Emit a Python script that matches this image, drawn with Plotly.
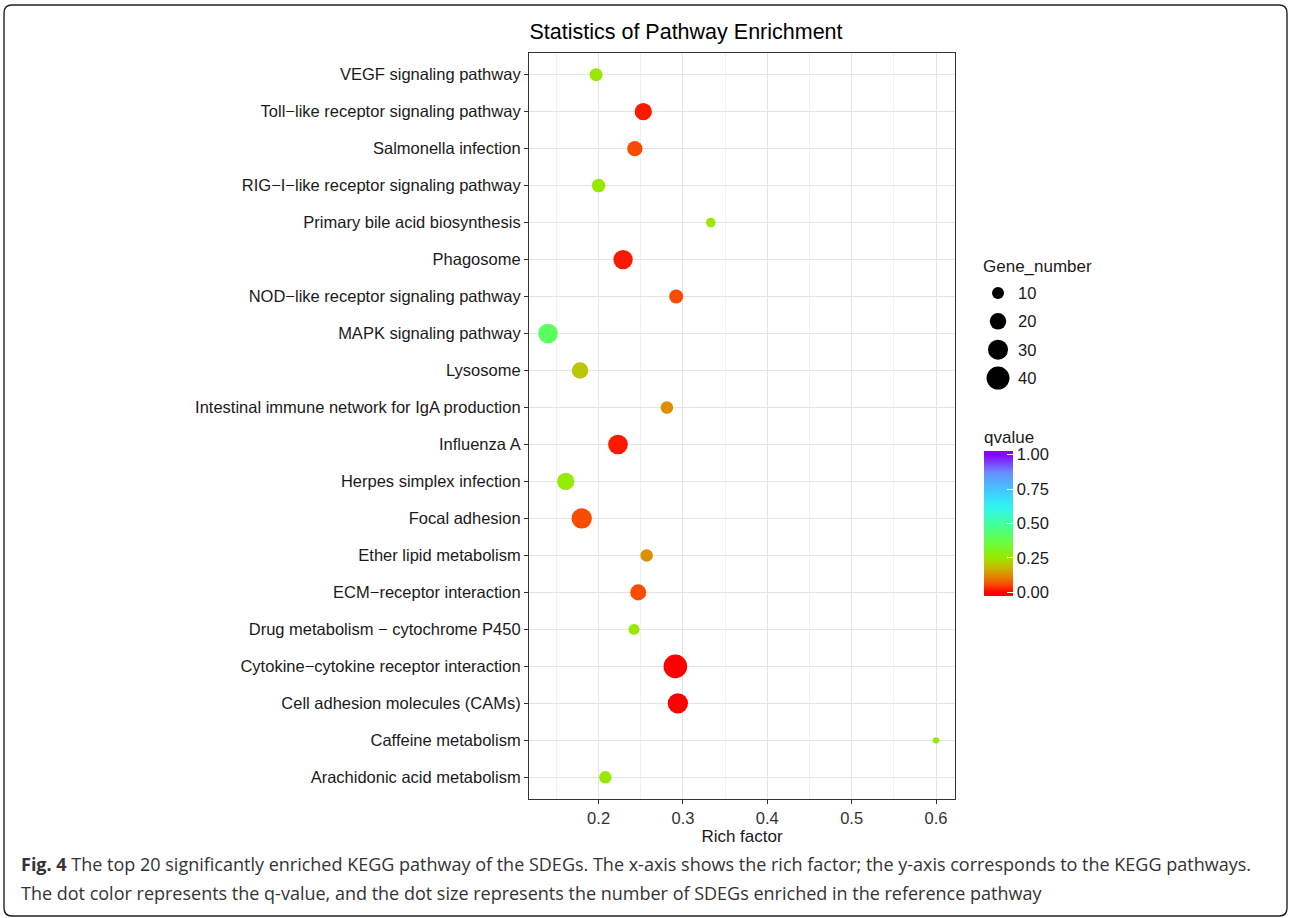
import numpy as np
import plotly.graph_objects as go

# KEGG pathways, listed top-to-bottom as shown on the y axis
pathways = [
    "VEGF signaling pathway",
    "Toll\u2212like receptor signaling pathway",
    "Salmonella infection",
    "RIG\u2212I\u2212like receptor signaling pathway",
    "Primary bile acid biosynthesis",
    "Phagosome",
    "NOD\u2212like receptor signaling pathway",
    "MAPK signaling pathway",
    "Lysosome",
    "Intestinal immune network for IgA production",
    "Influenza A",
    "Herpes simplex infection",
    "Focal adhesion",
    "Ether lipid metabolism",
    "ECM\u2212receptor interaction",
    "Drug metabolism \u2212 cytochrome P450",
    "Cytokine\u2212cytokine receptor interaction",
    "Cell adhesion molecules (CAMs)",
    "Caffeine metabolism",
    "Arachidonic acid metabolism",
]
rich_factor = [0.197, 0.253, 0.243, 0.200, 0.333, 0.229, 0.292, 0.140, 0.178, 0.281,
               0.223, 0.161, 0.180, 0.257, 0.247, 0.242, 0.291, 0.294, 0.600, 0.208]
gene_number = [12, 22, 17, 13, 6, 28, 14, 29, 20, 11,
               29, 22, 31, 11, 19, 8, 42, 31, 2, 11]
qvalue = [0.25, 0.02, 0.06, 0.25, 0.25, 0.02, 0.06, 0.41, 0.20, 0.13,
          0.02, 0.26, 0.06, 0.13, 0.06, 0.25, 0.00, 0.00, 0.25, 0.25]

x_ticks = [0.2, 0.3, 0.4, 0.5, 0.6]
size_breaks = [10, 20, 30, 40]
q_ticks = [0.0, 0.25, 0.5, 0.75, 1.0]

caption_1 = ("<b>Fig. 4</b> The top 20 significantly enriched KEGG pathway of the SDEGs. "
             "The x-axis shows the rich factor; the y-axis corresponds to the KEGG pathways.")
caption_2 = ("The dot color represents the q-value, and the dot size represents the number "
             "of SDEGs enriched in the reference pathway")

# ---- page geometry (pixels) ----
W, H = 1290, 918
ML, MR, MT, MB = 529, 10, 53, 119
PW, PH = W - ML - MR, H - MT - MB
PANEL_RIGHT = 955


def px_x(px):
    return (px - ML) / PW


def px_y(py):
    return (H - MB - py) / PH


def dot_diameter(n):
    # area grows linearly with the gene count
    return np.sqrt(12.8 * np.asarray(n, dtype=float) + 16.0)


# rainbow gradient, stops given in q-value units
q_stops = [
    (0.00, "#ff0000"), (0.06, "#f84c00"), (0.12, "#e08800"), (0.19, "#c0c000"),
    (0.25, "#99e800"), (0.37, "#66ff44"), (0.50, "#40ffa0"), (0.62, "#30f4f0"),
    (0.75, "#44c4ff"), (0.87, "#6a8cff"), (1.00, "#8800ff"),
]
# the colour bar runs a little past 0 and 1, the ends held at the limit colours
Q_MIN, Q_MAX = -0.0255, 1.0255
colorscale = [[0.0, q_stops[0][1]]]
colorscale += [[(q - Q_MIN) / (Q_MAX - Q_MIN), c] for q, c in q_stops]
colorscale += [[1.0, q_stops[-1][1]]]

FONT = "Liberation Sans, Arial, sans-serif"
INK = "#1a1a1a"
TICK_SIZE = 16.5

fig = go.Figure()

fig.add_trace(go.Scatter(
    x=rich_factor, y=pathways, mode="markers",
    marker=dict(
        size=dot_diameter(gene_number), sizemode="diameter",
        color=qvalue, colorscale=colorscale, cmin=Q_MIN, cmax=Q_MAX,
        line=dict(width=0), opacity=1,
        showscale=True,
        colorbar=dict(
            title=dict(text="qvalue", side="top", font=dict(size=17, family=FONT, color=INK)),
            x=px_x(984), xanchor="left", xpad=0,
            y=px_y(596), yanchor="bottom", ypad=0,
            len=169, lenmode="pixels", thickness=29,
            tickvals=q_ticks, tickformat=".2f",
            ticks="inside", ticklen=6, tickcolor="white", tickwidth=1,
            tickfont=dict(size=TICK_SIZE, family=FONT, color=INK),
            outlinewidth=0,
        ),
    ),
    showlegend=False, xaxis="x", yaxis="y",
))

# Gene_number size key
fig.add_trace(go.Scatter(
    x=[0.163] * len(size_breaks), y=list(range(len(size_breaks))), mode="markers",
    marker=dict(size=dot_diameter(size_breaks), sizemode="diameter", color="#000000",
                opacity=1, line=dict(width=0)),
    showlegend=False, xaxis="x2", yaxis="y2", hoverinfo="skip",
))

annotations = []
for i, b in enumerate(size_breaks):
    annotations.append(dict(
        x=0.372, y=i, xref="x2", yref="y2", text=str(b), showarrow=False,
        xanchor="left", yanchor="middle", font=dict(size=TICK_SIZE, family=FONT, color=INK),
    ))
annotations.append(dict(
    x=px_x(981), y=px_y(266), xref="paper", yref="paper", text="Gene_number",
    showarrow=False, xanchor="left", yanchor="middle", font=dict(size=17, family=FONT, color=INK),
))
annotations.append(dict(
    x=px_x(19), y=px_y(864), xref="paper", yref="paper", text=caption_1,
    showarrow=False, xanchor="left", yanchor="middle",
    font=dict(size=18, family="Open Sans, sans-serif", color="#333333"),
))
annotations.append(dict(
    x=px_x(19), y=px_y(893), xref="paper", yref="paper", text=caption_2,
    showarrow=False, xanchor="left", yanchor="middle",
    font=dict(size=18, family="Open Sans, sans-serif", color="#333333"),
))

# rounded frame around the whole figure
x0, y0, x1, y1, r = 4, 5, 1287, 916, 8
frame = (
    f"M {px_x(x0 + r)} {px_y(y0)} L {px_x(x1 - r)} {px_y(y0)} "
    f"Q {px_x(x1)} {px_y(y0)} {px_x(x1)} {px_y(y0 + r)} "
    f"L {px_x(x1)} {px_y(y1 - r)} "
    f"Q {px_x(x1)} {px_y(y1)} {px_x(x1 - r)} {px_y(y1)} "
    f"L {px_x(x0 + r)} {px_y(y1)} "
    f"Q {px_x(x0)} {px_y(y1)} {px_x(x0)} {px_y(y1 - r)} "
    f"L {px_x(x0)} {px_y(y0 + r)} "
    f"Q {px_x(x0)} {px_y(y0)} {px_x(x0 + r)} {px_y(y0)} Z"
)

category_order = pathways[::-1]

fig.update_layout(
    width=W, height=H,
    margin=dict(l=ML, r=MR, t=MT, b=MB, autoexpand=False),
    paper_bgcolor="white", plot_bgcolor="white",
    font=dict(family=FONT, color=INK),
    title=dict(
        text="Statistics of Pathway Enrichment", x=686 / W, xref="container", xanchor="center",
        y=1 - 31 / H, yref="container", yanchor="middle",
        font=dict(size=21.5, family=FONT, color="black"),
    ),
    xaxis=dict(
        domain=[0, px_x(PANEL_RIGHT)], range=[0.1175, 0.6225],
        tickvals=x_ticks, tickformat=".1f",
        ticks="outside", ticklen=4, tickcolor="#333333", tickwidth=1,
        tickfont=dict(size=TICK_SIZE, family=FONT, color="#333333"),
        showgrid=True, gridcolor="#e4e4e4", gridwidth=1.4,
        minor=dict(dtick=0.05, tick0=0.15, showgrid=True, gridcolor="#f0f0f0", gridwidth=0.8, ticks=""),
        showline=True, mirror=True, linecolor="#333333", linewidth=1.1,
        zeroline=False,
        title=dict(text="Rich factor", standoff=0, font=dict(size=17, family=FONT, color=INK)),
        anchor="y",
    ),
    yaxis=dict(
        domain=[0, 1], type="category", categoryorder="array", categoryarray=category_order,
        range=[-0.586, len(pathways) - 1 + 0.586],
        ticks="outside", ticklen=4, tickcolor="#333333", tickwidth=1,
        tickfont=dict(size=TICK_SIZE, family=FONT, color=INK),
        showgrid=True, gridcolor="#e4e4e4", gridwidth=1.4,
        showline=True, mirror=True, linecolor="#333333", linewidth=1.1,
        zeroline=False, anchor="x",
    ),
    xaxis2=dict(domain=[px_x(984), px_x(1070)], range=[0, 1], visible=False, anchor="y2", fixedrange=True),
    yaxis2=dict(domain=[px_y(392.25), px_y(278.75)], range=[3.5, -0.5], visible=False, anchor="x2", fixedrange=True),
    annotations=annotations,
    shapes=[dict(type="path", path=frame, xref="paper", yref="paper",
                 line=dict(color="#222222", width=1.4), fillcolor="rgba(0,0,0,0)", layer="above")],
)

fig.write_html("out.html")
